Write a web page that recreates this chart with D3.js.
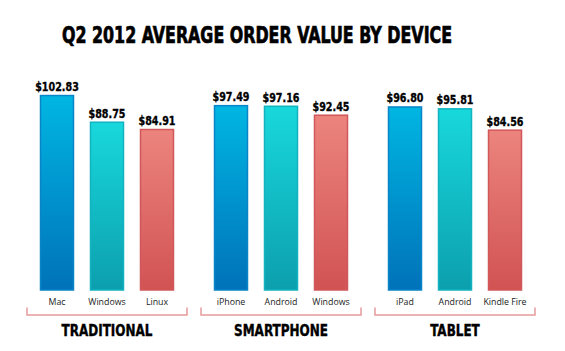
<!DOCTYPE html>
<html>
<head>
<meta charset="utf-8">
<script src="https://cdn.jsdelivr.net/npm/d3@7"></script>
<style>
  body { margin: 0; background: #fff; }
  svg { display: block; }
</style>
</head>
<body>
<svg id="chart" width="565" height="351"></svg>
<script>
// data
const groups = ["TRADITIONAL", "SMARTPHONE", "TABLET"];
const devices = [
  ["Mac", "Windows", "Linux"],
  ["iPhone", "Android", "Windows"],
  ["iPad", "Android", "Kindle Fire"]
];
const values = [
  [102.83, 88.75, 84.91],
  [97.49, 97.16, 92.45],
  [96.80, 95.81, 84.56]
];
const title = "Q2 2012 AVERAGE ORDER VALUE BY DEVICE";

const svg = d3.select("#chart");
const condensed = "'Liberation Sans Narrow', 'DejaVu Sans Condensed', 'Arial Narrow', sans-serif";

// colours per slot in a group (blue, teal, red)
const palette = [
  { top: "#00b6e2", bottom: "#0072b9", stroke: "#0a84c8" },
  { top: "#18d8dc", bottom: "#0c9fae", stroke: "#12b2c0" },
  { top: "#ec847e", bottom: "#d15353", stroke: "#d2575a" }
];

const defs = svg.append("defs");
palette.forEach((p, i) => {
  const g = defs.append("linearGradient")
    .attr("id", "grad" + i)
    .attr("x1", 0).attr("y1", 0).attr("x2", 0).attr("y2", 1);
  g.append("stop").attr("offset", "0%").attr("stop-color", p.top);
  g.append("stop").attr("offset", "100%").attr("stop-color", p.bottom);
});

const baseline = 290;
const y = d3.scaleLinear().domain([0, 100]).range([baseline, baseline - 189.6]);

const x0 = d3.scaleBand().domain(groups).range([20, 542]).padding(0);
const x1 = d3.scaleBand().domain([0, 1, 2]).range([20, 154])
  .paddingInner(0.32).paddingOuter(0);

// narrow bold text: the fallback condensed font is wider than the original
function narrowText(sel, x, yy, size, sx, str) {
  sel.append("text")
    .attr("transform", `translate(${x},${yy}) scale(${sx},1)`)
    .attr("text-anchor", "middle")
    .attr("font-family", condensed)
    .attr("font-weight", "bold")
    .attr("font-size", size)
    .attr("fill", "#000")
    .attr("stroke", "#000")
    .attr("stroke-width", 0.35)
    .text(str);
}

// title
svg.append("text")
  .attr("x", 257)
  .attr("y", 43)
  .attr("text-anchor", "middle")
  .attr("font-family", condensed)
  .attr("font-weight", "bold")
  .attr("font-size", 22.5)
  .attr("fill", "#000")
  .attr("stroke", "#000")
  .attr("stroke-width", 0.7)
  .attr("textLength", 390)
  .attr("lengthAdjust", "spacingAndGlyphs")
  .text(title);

groups.forEach((grp, gi) => {
  const g = svg.append("g").attr("transform", `translate(${x0(grp)},0)`);
  const rows = values[gi].map((v, i) => ({ v, i, name: devices[gi][i] }));

  g.selectAll("rect.bar")
    .data(rows)
    .join("rect")
    .attr("class", "bar")
    .attr("x", d => x1(d.i) + 0.5)
    .attr("width", x1.bandwidth() - 1)
    .attr("y", d => y(d.v) + 0.5)
    .attr("height", d => baseline - y(d.v) - 0.5)
    .attr("fill", d => `url(#grad${d.i})`)
    .attr("stroke", d => palette[d.i].stroke)
    .attr("stroke-width", 1.5);

  // value labels
  rows.forEach(d => {
    narrowText(g, x1(d.i) + x1.bandwidth() / 2, y(d.v) - 4, 13, 0.82, "$" + d.v.toFixed(2));
  });

  // device names
  g.selectAll("text.cat")
    .data(rows)
    .join("text")
    .attr("class", "cat")
    .attr("x", d => x1(d.i) + x1.bandwidth() / 2)
    .attr("y", 305)
    .attr("text-anchor", "middle")
    .attr("font-family", "'Open Sans', 'Liberation Sans', sans-serif")
    .attr("font-size", 8.8)
    .attr("fill", "#1a1a1a")
    .text(d => d.name);

  // bracket
  const bw = x0.bandwidth();
  g.append("path")
    .attr("d", `M7,307.5 V315 H${bw - 7} V307.5`)
    .attr("fill", "none")
    .attr("stroke", "#e59b9b")
    .attr("stroke-width", 1.5);

  // group label
  narrowText(g, bw / 2, 336, 15, 0.89, grp);
});
</script>
</body>
</html>
